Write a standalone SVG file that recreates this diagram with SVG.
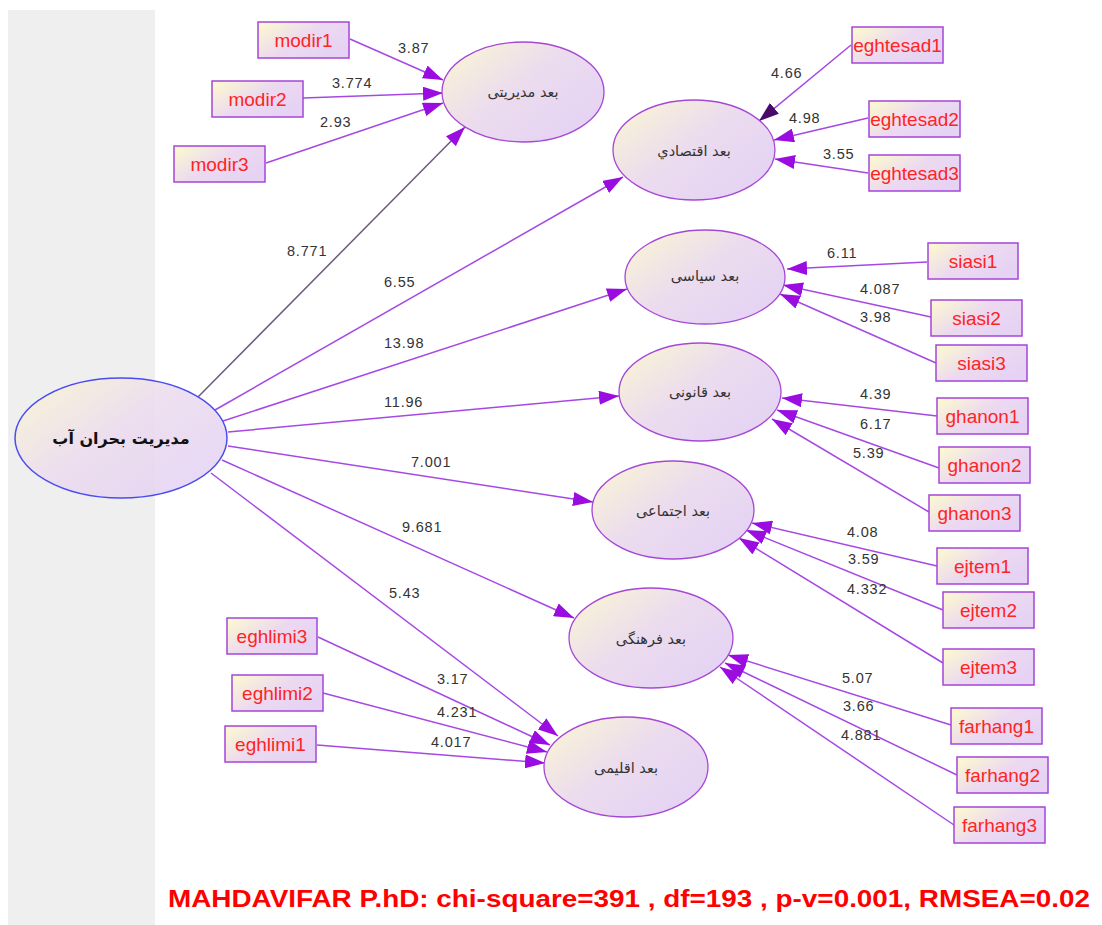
<svg xmlns="http://www.w3.org/2000/svg" width="1102" height="925" viewBox="0 0 1102 925">
<defs>
<linearGradient id="gBox" x1="0" y1="0" x2="1" y2="0.6">
<stop offset="0" stop-color="#fdfbce"/>
<stop offset="0.55" stop-color="#ecd9f0"/>
<stop offset="1" stop-color="#e6d3f4"/>
</linearGradient>
<linearGradient id="gEll" x1="0" y1="0" x2="1" y2="0.8">
<stop offset="0" stop-color="#fbf8d2"/>
<stop offset="0.5" stop-color="#ecdcee"/>
<stop offset="1" stop-color="#e4d2f4"/>
</linearGradient>
<marker id="ah" markerUnits="userSpaceOnUse" markerWidth="20" markerHeight="14" viewBox="0 0 20 14" refX="20" refY="7" orient="auto">
<path d="M0,0 L20,7 L0,14 Z" fill="#9a0ce0"/>
</marker>
<marker id="ahd" markerUnits="userSpaceOnUse" markerWidth="20" markerHeight="14" viewBox="0 0 20 14" refX="20" refY="7" orient="auto">
<path d="M0,0 L20,7 L0,14 Z" fill="#4a0a6a"/>
</marker>
</defs>
<style>
.box{fill:url(#gBox);stroke:#a545d8;stroke-width:1.5}
.ell{fill:url(#gEll);stroke:#a648d6;stroke-width:1.3}
.bt{font-family:"Liberation Sans",Arial,sans-serif;font-size:19px;fill:#ff2424;text-anchor:middle}
.et{font-family:"DejaVu Sans","Noto Sans",sans-serif;font-size:14.5px;fill:#333;text-anchor:middle}
.lbl{font-family:"Liberation Sans",Arial,sans-serif;font-size:14.5px;fill:#333;letter-spacing:0.8px}
.c{stroke:#a648e4;stroke-width:1.5;fill:none;marker-end:url(#ah)}
</style>
<rect x="0" y="0" width="1102" height="925" fill="#ffffff"/>
<rect x="8" y="10" width="147" height="915" fill="#efefef"/>

<g id="connectors">
<line class="c" x1="198" y1="397" x2="465" y2="127" style="stroke:#6e5a80"/>
<line class="c" x1="215" y1="410" x2="623" y2="177"/>
<line class="c" x1="223" y1="421" x2="627" y2="289"/>
<line class="c" x1="228" y1="432" x2="619" y2="396"/>
<line class="c" x1="228" y1="446" x2="593" y2="502"/>
<line class="c" x1="222" y1="460" x2="574" y2="618"/>
<line class="c" x1="211" y1="473" x2="558" y2="736"/>

<line class="c" x1="350" y1="39" x2="443" y2="80"/>
<line class="c" x1="303" y1="98" x2="443" y2="93"/>
<line class="c" x1="266" y1="163" x2="443" y2="103"/>

<line class="c" x1="851" y1="45" x2="759" y2="121" style="marker-end:url(#ahd)"/>
<line class="c" x1="868" y1="118" x2="774" y2="140"/>
<line class="c" x1="868" y1="173" x2="775" y2="159"/>

<line class="c" x1="927" y1="262" x2="787" y2="269"/>
<line class="c" x1="931" y1="317" x2="783" y2="285"/>
<line class="c" x1="936" y1="363" x2="780" y2="294"/>

<line class="c" x1="937" y1="416" x2="782" y2="398"/>
<line class="c" x1="939" y1="468" x2="777" y2="410"/>
<line class="c" x1="929" y1="512" x2="772" y2="419"/>

<line class="c" x1="937" y1="566" x2="752" y2="523"/>
<line class="c" x1="943" y1="610" x2="746" y2="530"/>
<line class="c" x1="943" y1="663" x2="739" y2="538"/>

<line class="c" x1="951" y1="725" x2="728" y2="655"/>
<line class="c" x1="957" y1="775" x2="725" y2="663"/>
<line class="c" x1="954" y1="825" x2="720" y2="667"/>

<line class="c" x1="318" y1="637" x2="550" y2="745"/>
<line class="c" x1="323" y1="693" x2="547" y2="752"/>
<line class="c" x1="317" y1="745" x2="545" y2="763"/>
</g>

<g id="labels">
<text class="lbl" x="287" y="256">8.771</text>
<text class="lbl" x="384" y="287">6.55</text>
<text class="lbl" x="384" y="348">13.98</text>
<text class="lbl" x="384" y="407">11.96</text>
<text class="lbl" x="411" y="467">7.001</text>
<text class="lbl" x="402" y="532">9.681</text>
<text class="lbl" x="389" y="598">5.43</text>
<text class="lbl" x="398" y="53">3.87</text>
<text class="lbl" x="332" y="88">3.774</text>
<text class="lbl" x="320" y="127">2.93</text>
<text class="lbl" x="771" y="78">4.66</text>
<text class="lbl" x="789" y="123">4.98</text>
<text class="lbl" x="823" y="159">3.55</text>
<text class="lbl" x="827" y="258">6.11</text>
<text class="lbl" x="860" y="294">4.087</text>
<text class="lbl" x="860" y="322">3.98</text>
<text class="lbl" x="860" y="399">4.39</text>
<text class="lbl" x="860" y="429">6.17</text>
<text class="lbl" x="853" y="458">5.39</text>
<text class="lbl" x="847" y="537">4.08</text>
<text class="lbl" x="848" y="564">3.59</text>
<text class="lbl" x="847" y="594">4.332</text>
<text class="lbl" x="842" y="683">5.07</text>
<text class="lbl" x="843" y="711">3.66</text>
<text class="lbl" x="841" y="740">4.881</text>
<text class="lbl" x="437" y="684">3.17</text>
<text class="lbl" x="437" y="717">4.231</text>
<text class="lbl" x="431" y="747">4.017</text>
</g>

<g id="n-main">
<ellipse cx="121" cy="438" rx="106" ry="60" fill="url(#gEll)" fill-opacity="0.88" stroke="#4a4cf0" stroke-width="1.5"/>
<text x="121" y="444" font-family="'DejaVu Sans','Noto Sans',sans-serif" font-size="16" font-weight="bold" fill="#111" text-anchor="middle">مدیریت بحران آب</text>
</g>

<g id="n-modiriati"><ellipse class="ell" cx="523" cy="92" rx="81" ry="50"/><text class="et" x="523" y="97">بعد مدیریتی</text></g>
<g id="n-eghtesadi"><ellipse class="ell" cx="694" cy="150" rx="81" ry="50"/><text class="et" x="694" y="156">بعد اقتصادي</text></g>
<g id="n-siasi"><ellipse class="ell" cx="705" cy="277" rx="80" ry="47"/><text class="et" x="705" y="281">بعد سیاسی</text></g>
<g id="n-ghanoni"><ellipse class="ell" cx="700" cy="392" rx="81" ry="49"/><text class="et" x="700" y="397">بعد قانونی</text></g>
<g id="n-ejtemaei"><ellipse class="ell" cx="673" cy="510" rx="81" ry="49"/><text class="et" x="673" y="516">بعد اجتماعی</text></g>
<g id="n-farhangi"><ellipse class="ell" cx="651" cy="638" rx="82" ry="50"/><text class="et" x="651" y="644">بعد فرهنگی</text></g>
<g id="n-eghlimi"><ellipse class="ell" cx="626" cy="767" rx="82" ry="50"/><text class="et" x="626" y="773">بعد اقلیمی</text></g>

<g id="b-modir1"><rect class="box" x="258" y="22" width="91" height="36"/><text class="bt" x="303.5" y="47">modir1</text></g>
<g id="b-modir2"><rect class="box" x="212" y="81" width="91" height="36"/><text class="bt" x="257.5" y="106">modir2</text></g>
<g id="b-modir3"><rect class="box" x="174" y="146" width="91" height="36"/><text class="bt" x="219.5" y="171">modir3</text></g>

<g id="b-eghtesad1"><rect class="box" x="852" y="27" width="91" height="36"/><text class="bt" x="897.5" y="52">eghtesad1</text></g>
<g id="b-eghtesad2"><rect class="box" x="869" y="101" width="91" height="36"/><text class="bt" x="914.5" y="126">eghtesad2</text></g>
<g id="b-eghtesad3"><rect class="box" x="869" y="155" width="91" height="36"/><text class="bt" x="914.5" y="180">eghtesad3</text></g>

<g id="b-siasi1"><rect class="box" x="928" y="243" width="90" height="36"/><text class="bt" x="973" y="268">siasi1</text></g>
<g id="b-siasi2"><rect class="box" x="931" y="300" width="91" height="36"/><text class="bt" x="976.5" y="325">siasi2</text></g>
<g id="b-siasi3"><rect class="box" x="936" y="345" width="91" height="36"/><text class="bt" x="981.5" y="370">siasi3</text></g>

<g id="b-ghanon1"><rect class="box" x="937" y="398" width="91" height="36"/><text class="bt" x="982.5" y="423">ghanon1</text></g>
<g id="b-ghanon2"><rect class="box" x="939" y="447" width="91" height="36"/><text class="bt" x="984.5" y="472">ghanon2</text></g>
<g id="b-ghanon3"><rect class="box" x="929" y="495" width="91" height="36"/><text class="bt" x="974.5" y="520">ghanon3</text></g>

<g id="b-ejtem1"><rect class="box" x="937" y="548" width="91" height="36"/><text class="bt" x="982.5" y="573">ejtem1</text></g>
<g id="b-ejtem2"><rect class="box" x="943" y="592" width="91" height="36"/><text class="bt" x="988.5" y="617">ejtem2</text></g>
<g id="b-ejtem3"><rect class="box" x="943" y="649" width="91" height="36"/><text class="bt" x="988.5" y="674">ejtem3</text></g>

<g id="b-farhang1"><rect class="box" x="951" y="708" width="91" height="36"/><text class="bt" x="996.5" y="733">farhang1</text></g>
<g id="b-farhang2"><rect class="box" x="957" y="757" width="91" height="36"/><text class="bt" x="1002.5" y="782">farhang2</text></g>
<g id="b-farhang3"><rect class="box" x="954" y="807" width="91" height="36"/><text class="bt" x="999.5" y="832">farhang3</text></g>

<g id="b-eghlimi3"><rect class="box" x="227" y="618" width="90" height="36"/><text class="bt" x="272" y="643">eghlimi3</text></g>
<g id="b-eghlimi2"><rect class="box" x="232" y="675" width="91" height="36"/><text class="bt" x="277.5" y="700">eghlimi2</text></g>
<g id="b-eghlimi1"><rect class="box" x="225" y="726" width="91" height="36"/><text class="bt" x="270.5" y="751">eghlimi1</text></g>

<text x="168" y="907" font-family="'Liberation Sans',Arial,sans-serif" font-size="24" font-weight="bold" fill="#ff0000" textLength="922" lengthAdjust="spacingAndGlyphs">MAHDAVIFAR P.hD: chi-square=391 , df=193 , p-v=0.001, RMSEA=0.02</text>
</svg>
